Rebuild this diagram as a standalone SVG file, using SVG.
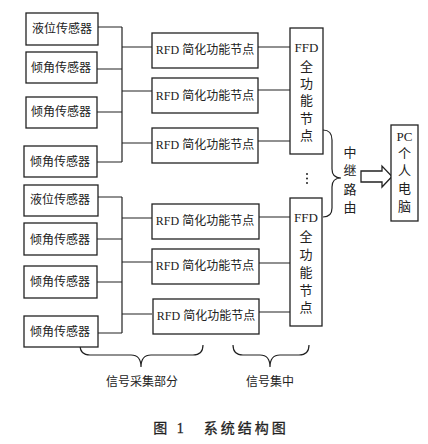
<svg xmlns="http://www.w3.org/2000/svg" width="428" height="444" viewBox="0 0 428 444">
<style>
.box{fill:#fff;stroke:#222;stroke-width:1.3}
.ln{fill:none;stroke:#222;stroke-width:1.2}
.t{font-family:"Liberation Serif","Noto Sans CJK SC",serif;font-size:12px;fill:#222;text-anchor:middle;dominant-baseline:central}
.v{font-family:"Liberation Serif","Noto Sans CJK SC",serif;font-size:13px;fill:#222;text-anchor:middle;dominant-baseline:central}
</style>
<rect width="428" height="444" fill="#fff"/>
<g id="connectors">
<path class="ln" d="M97,27H122M97,69H122M97,112H122M97,162H122M122,27V162M122,47H152M122,91H152M122,143H152"/>
<path class="ln" d="M258,47H290M258,90H290M258,141H290"/>
<path class="ln" d="M97,197H122M97,239H122M97,282H122M97,333H122M122,197V333M122,218H152M122,262H152M122,314H152"/>
<path class="ln" d="M259,217H290M259,263H290M259,312H290"/>
<path class="ln" d="M323,130Q332,130 332,140V169Q332,178 341,178Q332,178 332,187V208Q332,217 323,217"/>
<polygon class="box" points="361,171 382,171 382,166 392,176.5 382,187 382,182 361,182"/>
<path class="ln" d="M80,345Q80,355 90,355H131Q141,355 141,367Q141,355 151,355H193Q203,355 203,345"/>
<path class="ln" d="M233,345Q233,355 243,355H260Q270,355 270,367Q270,355 280,355H299Q309,355 309,345"/>
<circle cx="307" cy="174" r="1" fill="#222"/>
<circle cx="307" cy="178.5" r="1" fill="#222"/>
<circle cx="307" cy="183" r="1" fill="#222"/>
</g>
<g id="s1"><rect class="box" x="26" y="13" width="72" height="32"/><text class="t" x="62" y="29">液位传感器</text></g>
<g id="s2"><rect class="box" x="26" y="52" width="71" height="31"/><text class="t" x="61" y="68">倾角传感器</text></g>
<g id="s3"><rect class="box" x="26" y="97" width="71" height="31"/><text class="t" x="61" y="112">倾角传感器</text></g>
<g id="s4"><rect class="box" x="24" y="146" width="73" height="31"/><text class="t" x="60" y="162">倾角传感器</text></g>
<g id="s5"><rect class="box" x="24" y="185" width="74" height="31"/><text class="t" x="60" y="200">液位传感器</text></g>
<g id="s6"><rect class="box" x="24" y="223" width="73" height="32"/><text class="t" x="60" y="240">倾角传感器</text></g>
<g id="s7"><rect class="box" x="24" y="266" width="73" height="32"/><text class="t" x="60" y="282">倾角传感器</text></g>
<g id="s8"><rect class="box" x="24" y="316" width="74" height="31"/><text class="t" x="60" y="332">倾角传感器</text></g>
<g id="r1"><rect class="box" x="152" y="33" width="106" height="35"/><text class="t" x="205" y="50">RFD 简化功能节点</text></g>
<g id="r2"><rect class="box" x="152" y="78" width="106" height="35"/><text class="t" x="205" y="96">RFD 简化功能节点</text></g>
<g id="r3"><rect class="box" x="152" y="128" width="106" height="35"/><text class="t" x="205" y="145">RFD 简化功能节点</text></g>
<g id="r4"><rect class="box" x="152" y="204" width="107" height="35"/><text class="t" x="205" y="221">RFD 简化功能节点</text></g>
<g id="r5"><rect class="box" x="152" y="249" width="107" height="35"/><text class="t" x="205" y="266">RFD 简化功能节点</text></g>
<g id="r6"><rect class="box" x="153" y="299" width="106" height="35"/><text class="t" x="206" y="316">RFD 简化功能节点</text></g>
<g id="f1"><rect class="box" x="290" y="28" width="33" height="126"/>
<text class="v" x="306.5" y="47">FFD</text><text class="v" x="306.5" y="66">全</text><text class="v" x="306.5" y="83">功</text><text class="v" x="306.5" y="100">能</text><text class="v" x="306.5" y="118">节</text><text class="v" x="306.5" y="135">点</text></g>
<g id="f2"><rect class="box" x="290" y="198" width="32" height="128"/>
<text class="v" x="306" y="217">FFD</text><text class="v" x="306" y="236">全</text><text class="v" x="306" y="254">功</text><text class="v" x="306" y="272">能</text><text class="v" x="306" y="290">节</text><text class="v" x="306" y="307">点</text></g>
<g id="relay"><text class="v" x="350" y="152">中</text><text class="v" x="350" y="170">继</text><text class="v" x="350" y="189">路</text><text class="v" x="350" y="207">由</text></g>
<g id="pc"><rect class="box" x="391" y="125" width="27" height="96"/>
<text class="v" x="404.5" y="136">PC</text><text class="v" x="404.5" y="153">个</text><text class="v" x="404.5" y="170">人</text><text class="v" x="404.5" y="188">电</text><text class="v" x="404.5" y="206">脑</text></g>
<g id="labels">
<text class="t" x="142" y="382" font-size="13">信号采集部分</text>
<text class="t" x="270" y="382" font-size="13">信号集中</text>
<text class="t" x="221" y="428" style="font-size:14px;letter-spacing:3px;stroke:#222;stroke-width:0.3">图 1　系统结构图</text>
</g>
</svg>
